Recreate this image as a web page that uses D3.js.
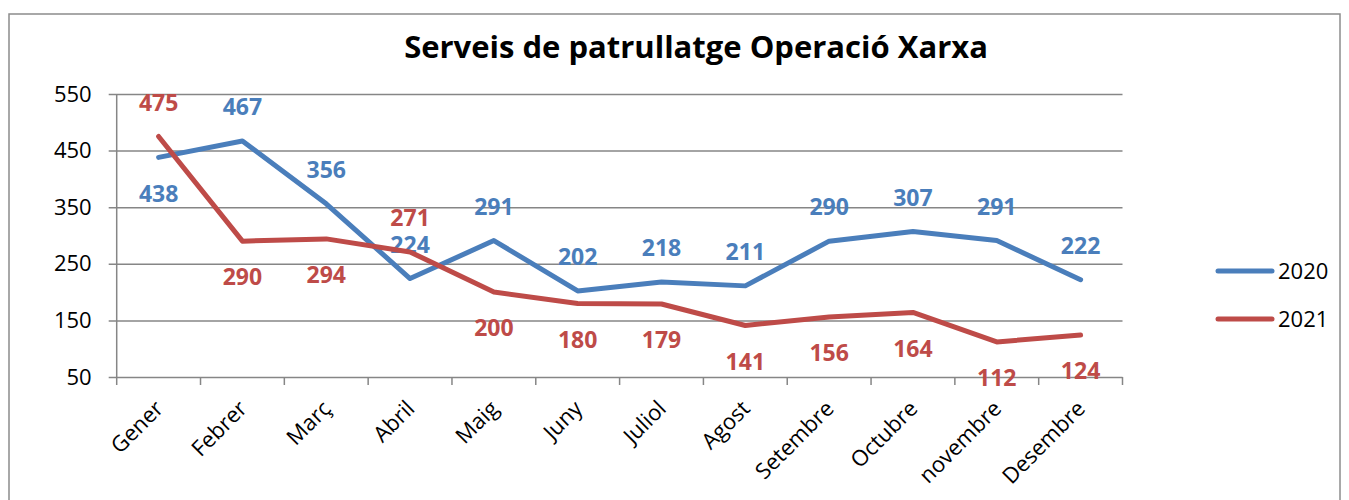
<!DOCTYPE html>
<html>
<head>
<meta charset="utf-8">
<script src="https://d3js.org/d3.v7.min.js"></script>
<style>
    body{ margin:0; background:#fff; }
    svg text{ font-family:"Open Sans", sans-serif; }
</style>
</head>
<body>
<svg id="chart" width="1349" height="500"></svg>
<script>

// ===============================
// DATA
// ===============================

const months=["Gener","Febrer","Març","Abril","Maig","Juny","Juliol","Agost","Setembre","Octubre","novembre","Desembre"];

const values2020=[438,467,356,224,291,202,218,211,290,307,291,222];

const values2021=[475,290,294,271,200,180,179,141,156,164,112,124];

// which side of the point each data label sits on
const side2020=["below","above","above","above","above","above","above","above","above","above","above","above"];

const side2021=["above","below","below","above","below","below","below","below","below","below","below","below"];

const yTicks=[50,150,250,350,450,550];

const seriesNames=["2020","2021"];

const colors=["#4A7EBB","#BE4B48"];

// ===============================
// LAYOUT
// ===============================

const svg=d3.select("#chart");

const plot={left:116.7,right:1122.5,top:94,bottom:377};

const x=d3.scaleBand()
    .domain(months)
    .range([plot.left,plot.right]);

const y=d3.scaleLinear()
    .domain([50,550])
    .range([plot.bottom,plot.top]);

// outer frame
svg.append("rect")
    .attr("x",9).attr("y",14)
    .attr("width",1331).attr("height",520)
    .attr("fill","none")
    .attr("stroke","#8c8c8c")
    .attr("stroke-width",1.5);

// title
svg.append("text")
    .attr("x",696)
    .attr("y",58)
    .attr("text-anchor","middle")
    .attr("font-size",31)
    .attr("font-weight","bold")
    .attr("fill","#000")
    .text("Serveis de patrullatge Operació Xarxa");

// ===============================
// AXES
// ===============================

const yAxis=d3.axisLeft(y)
    .tickValues(yTicks)
    .tickSize(plot.right-plot.left+8)
    .tickPadding(17)
    .tickFormat(d3.format("d"));

const yG=svg.append("g")
    .attr("transform",`translate(${plot.right},0)`)
    .call(yAxis);

yG.select(".domain").remove();

yG.selectAll(".tick line")
    .attr("stroke","#868686")
    .attr("stroke-width",1.5);

yG.selectAll(".tick text")
    .attr("font-size",22)
    .attr("fill","#000");

// vertical axis line
svg.append("line")
    .attr("x1",plot.left).attr("x2",plot.left)
    .attr("y1",plot.top).attr("y2",plot.bottom)
    .attr("stroke","#868686")
    .attr("stroke-width",1.5);

// category ticks on band edges
const edges=months.map(m=>x(m)).concat([plot.right]);

svg.append("g")
    .selectAll("line")
    .data(edges)
    .enter()
    .append("line")
    .attr("x1",d=>d).attr("x2",d=>d)
    .attr("y1",plot.bottom).attr("y2",plot.bottom+8)
    .attr("stroke","#868686")
    .attr("stroke-width",1.5);

// month labels, rotated
svg.append("g")
    .selectAll("text")
    .data(months)
    .enter()
    .append("text")
    .attr("text-anchor","end")
    .attr("font-size",22)
    .attr("fill","#000")
    .attr("transform",d=>`translate(${x(d)+x.bandwidth()/2+6},${plot.bottom+33}) rotate(-45)`)
    .text(d=>d);

// ===============================
// LINES + LABELS
// ===============================

const cx=d=>x(d)+x.bandwidth()/2;

function drawSeries(values,sides,color){

    const line=d3.line()
        .x((d,i)=>cx(months[i]))
        .y(d=>y(d));

    svg.append("path")
        .datum(values)
        .attr("d",line)
        .attr("fill","none")
        .attr("stroke",color)
        .attr("stroke-width",5)
        .attr("stroke-linecap","round")
        .attr("stroke-linejoin","round");

    svg.append("g")
        .selectAll("text")
        .data(values)
        .enter()
        .append("text")
        .attr("x",(d,i)=>cx(months[i]))
        .attr("y",(d,i)=>y(d)+(sides[i]==="above" ? -34 : 36))
        .attr("dy","0.36em")
        .attr("text-anchor","middle")
        .attr("font-size",23)
        .attr("font-weight","bold")
        .attr("fill",color)
        .text(d=>d);

}

drawSeries(values2020,side2020,colors[0]);

drawSeries(values2021,side2021,colors[1]);

// ===============================
// LEGEND
// ===============================

const legend=svg.append("g")
    .selectAll("g")
    .data(seriesNames)
    .enter()
    .append("g")
    .attr("transform",(d,i)=>`translate(1218,${271+i*48})`);

legend.append("line")
    .attr("x1",0).attr("x2",54)
    .attr("stroke",(d,i)=>colors[i])
    .attr("stroke-width",5)
    .attr("stroke-linecap","round");

legend.append("text")
    .attr("x",60)
    .attr("dy","0.36em")
    .attr("font-size",22)
    .attr("fill","#000")
    .text(d=>d);

</script>
</body>
</html>
